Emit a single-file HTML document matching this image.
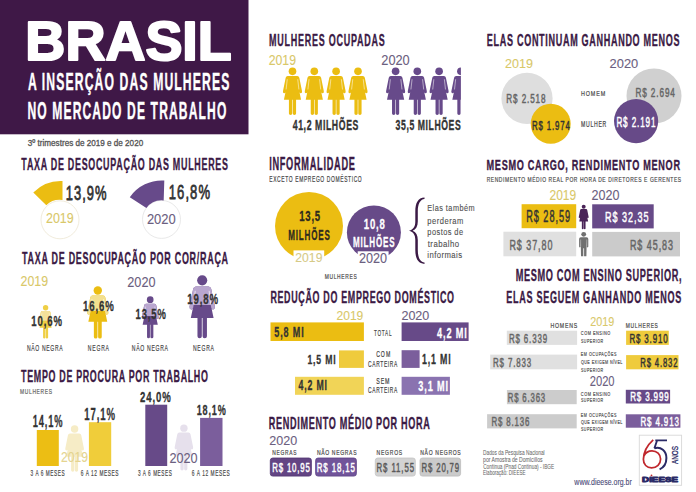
<!DOCTYPE html>
<html><head><meta charset="utf-8"><style>
html,body{margin:0;padding:0;background:#fff;}
svg{display:block;}
text{font-family:"Liberation Sans",sans-serif;}
</style></head><body>
<svg width="696" height="492" viewBox="0 0 696 492">
<defs><clipPath id="clipOc"><rect x="-100" y="-10" width="100" height="120"/></clipPath></defs>
<rect width="696" height="492" fill="#fff"/>
<rect x="0.0" y="0.0" width="248.5" height="134.3" fill="#3f1847" rx="0" />
<text x="25.39" y="59.60" font-size="54.94" font-weight="bold" fill="#ffffff" stroke="#ffffff" stroke-width="2.2" stroke-linejoin="round" textLength="206.21" lengthAdjust="spacingAndGlyphs" >BRASIL</text>
<text x="54.59" y="90.50" font-size="23.84" font-weight="bold" fill="#ffffff" stroke="#ffffff" stroke-width="0.4" stroke-linejoin="round" transform="scale(0.511,1)" textLength="394.09" lengthAdjust="spacing" >A INSERÇÃO DAS MULHERES</text>
<text x="54.37" y="119.40" font-size="23.98" font-weight="bold" fill="#ffffff" stroke="#ffffff" stroke-width="0.4" stroke-linejoin="round" transform="scale(0.5038,1)" textLength="394.83" lengthAdjust="spacing" >NO MERCADO DE TRABALHO</text>
<text x="27.86" y="146.14" font-size="9.11"  fill="#555" stroke="#555" stroke-width="0.33" stroke-linejoin="round" textLength="115.30" lengthAdjust="spacingAndGlyphs" >3º trimestres de 2019 e de 2020</text>
<text x="40.54" y="169.62" font-size="16.93" font-weight="bold" fill="#3b1a45" stroke="#3b1a45" stroke-width="0.35" stroke-linejoin="round" transform="scale(0.5272,1)" textLength="391.88" lengthAdjust="spacing" >TAXA DE DESOCUPAÇÃO DAS MULHERES</text>
<circle cx="60.0" cy="219.8" r="19.0" fill="#fff" stroke="#f1ecdc" stroke-width="1"/>
<path d="M 62.5 181 A 38.5 38.5 0 0 0 33.3 192.5 L 46.3 205.2 A 19.5 19.5 0 0 1 62.5 200 Z" fill="#ebbd12" />
<text x="102.84" y="199.90" font-size="20.20"  fill="#333333" stroke="#333333" stroke-width="0.8" stroke-linejoin="round" transform="scale(0.64,1)" textLength="63.51" lengthAdjust="spacing" >13,9%</text>
<text x="46.02" y="223.35" font-size="13.81"  fill="#d9c869" stroke="#d9c869" stroke-width="0.1" stroke-linejoin="round" textLength="27.72" lengthAdjust="spacingAndGlyphs" >2019</text>
<circle cx="161.5" cy="219.4" r="19.0" fill="#fff" stroke="#e9e9e9" stroke-width="1"/>
<path d="M 164.3 180.5 A 39 39 0 0 0 129.8 197.2 L 146.4 208 A 19 19 0 0 1 163.7 200.4 Z" fill="#674a8a" />
<text x="263.76" y="199.40" font-size="20.35"  fill="#333333" stroke="#333333" stroke-width="0.8" stroke-linejoin="round" transform="scale(0.64,1)" textLength="64.31" lengthAdjust="spacing" >16,8%</text>
<text x="146.90" y="224.15" font-size="15.12"  fill="#6b6080" stroke="#6b6080" stroke-width="0.1" stroke-linejoin="round" textLength="28.86" lengthAdjust="spacingAndGlyphs" >2020</text>
<text x="40.95" y="263.82" font-size="16.64" font-weight="bold" fill="#3b1a45" stroke="#3b1a45" stroke-width="0.35" stroke-linejoin="round" transform="scale(0.5391,1)" textLength="382.09" lengthAdjust="spacing" >TAXA DE DESOCUPAÇÃO POR COR/RAÇA</text>
<text x="20.53" y="286.15" font-size="14.10"  fill="#d9c869" stroke="#d9c869" stroke-width="0.1" stroke-linejoin="round" textLength="27.51" lengthAdjust="spacingAndGlyphs" >2019</text>
<text x="127.31" y="286.95" font-size="14.10"  fill="#6b6080" stroke="#6b6080" stroke-width="0.1" stroke-linejoin="round" textLength="28.23" lengthAdjust="spacingAndGlyphs" >2020</text>
<g transform="translate(45.60,304.90) scale(0.3360)">
<circle cx="0" cy="8.5" r="8" fill="#efcf45"/>
<path d="M-10 18 L10 18 Q13.5 18 14.3 22 L20 50 Q20.5 54 17.6 54.5 Q15 55 14.2 51.5 L13.4 46 L18 68 L7.5 68 L7.5 97 Q7.5 100 4 100 Q0.6 100 0.6 97 L0.6 68 L-0.6 68 L-0.6 97 Q-0.6 100 -4 100 Q-7.5 100 -7.5 97 L-7.5 68 L-18 68 L-13.4 46 L-14.2 51.5 Q-15 55 -17.6 54.5 Q-20.5 54 -20 50 L-14.3 22 Q-13.5 18 -10 18 Z" fill="#efcf45"/>
<path d="M-10 18 L10 18 Q13.5 18 14.3 22 L20 50 Q20.5 54 17.6 54.5 Q15 55 14.2 51.5 L13.4 46 L13.6 47.5 L-13.6 47.5 L-13.4 46 L-14.2 51.5 Q-15 55 -17.6 54.5 Q-20.5 54 -20 50 L-14.3 22 Q-13.5 18 -10 18 Z" fill="#f4e19a"/>
<path d="M-11 25 L-13.4 46.5 M11 25 L13.4 46.5" stroke="#fff" stroke-width="1.3" fill="none" opacity="0.85"/>
</g>
<g transform="translate(97.80,286.00) scale(0.5250)">
<circle cx="0" cy="8.5" r="8" fill="#ebbd12"/>
<path d="M-10 18 L10 18 Q13.5 18 14.3 22 L20 50 Q20.5 54 17.6 54.5 Q15 55 14.2 51.5 L13.4 46 L18 68 L7.5 68 L7.5 97 Q7.5 100 4 100 Q0.6 100 0.6 97 L0.6 68 L-0.6 68 L-0.6 97 Q-0.6 100 -4 100 Q-7.5 100 -7.5 97 L-7.5 68 L-18 68 L-13.4 46 L-14.2 51.5 Q-15 55 -17.6 54.5 Q-20.5 54 -20 50 L-14.3 22 Q-13.5 18 -10 18 Z" fill="#ebbd12"/>
<path d="M-10 18 L10 18 Q13.5 18 14.3 22 L20 50 Q20.5 54 17.6 54.5 Q15 55 14.2 51.5 L13.4 46 L13.6 47.5 L-13.6 47.5 L-13.4 46 L-14.2 51.5 Q-15 55 -17.6 54.5 Q-20.5 54 -20 50 L-14.3 22 Q-13.5 18 -10 18 Z" fill="#f3e08f"/>
<path d="M-11 25 L-13.4 46.5 M11 25 L13.4 46.5" stroke="#fff" stroke-width="1.3" fill="none" opacity="0.85"/>
</g>
<g transform="translate(150.20,296.10) scale(0.4210)">
<circle cx="0" cy="8.5" r="8" fill="#674a8a"/>
<path d="M-10 18 L10 18 Q13.5 18 14.3 22 L20 50 Q20.5 54 17.6 54.5 Q15 55 14.2 51.5 L13.4 46 L18 68 L7.5 68 L7.5 97 Q7.5 100 4 100 Q0.6 100 0.6 97 L0.6 68 L-0.6 68 L-0.6 97 Q-0.6 100 -4 100 Q-7.5 100 -7.5 97 L-7.5 68 L-18 68 L-13.4 46 L-14.2 51.5 Q-15 55 -17.6 54.5 Q-20.5 54 -20 50 L-14.3 22 Q-13.5 18 -10 18 Z" fill="#674a8a"/>
<path d="M-10 18 L10 18 Q13.5 18 14.3 22 L20 50 Q20.5 54 17.6 54.5 Q15 55 14.2 51.5 L13.4 46 L13.6 47.5 L-13.6 47.5 L-13.4 46 L-14.2 51.5 Q-15 55 -17.6 54.5 Q-20.5 54 -20 50 L-14.3 22 Q-13.5 18 -10 18 Z" fill="#b9a6cf"/>
<path d="M-11 25 L-13.4 46.5 M11 25 L13.4 46.5" stroke="#fff" stroke-width="1.3" fill="none" opacity="0.85"/>
</g>
<g transform="translate(202.20,275.00) scale(0.6320)">
<circle cx="0" cy="8.5" r="8" fill="#674a8a"/>
<path d="M-10 18 L10 18 Q13.5 18 14.3 22 L20 50 Q20.5 54 17.6 54.5 Q15 55 14.2 51.5 L13.4 46 L18 68 L7.5 68 L7.5 97 Q7.5 100 4 100 Q0.6 100 0.6 97 L0.6 68 L-0.6 68 L-0.6 97 Q-0.6 100 -4 100 Q-7.5 100 -7.5 97 L-7.5 68 L-18 68 L-13.4 46 L-14.2 51.5 Q-15 55 -17.6 54.5 Q-20.5 54 -20 50 L-14.3 22 Q-13.5 18 -10 18 Z" fill="#674a8a"/>
<path d="M-10 18 L10 18 Q13.5 18 14.3 22 L20 50 Q20.5 54 17.6 54.5 Q15 55 14.2 51.5 L13.4 46 L13.6 47.5 L-13.6 47.5 L-13.4 46 L-14.2 51.5 Q-15 55 -17.6 54.5 Q-20.5 54 -20 50 L-14.3 22 Q-13.5 18 -10 18 Z" fill="#b9a6cf"/>
<path d="M-11 25 L-13.4 46.5 M11 25 L13.4 46.5" stroke="#fff" stroke-width="1.3" fill="none" opacity="0.85"/>
</g>
<text x="49.45" y="326.15" font-size="15.12" font-weight="bold" fill="#333333" stroke="#333333" stroke-width="0.3" stroke-linejoin="round" transform="scale(0.6339,1)" textLength="48.52" lengthAdjust="spacing" >10,6%</text>
<text x="128.73" y="310.95" font-size="14.97" font-weight="bold" fill="#333333" stroke="#333333" stroke-width="0.3" stroke-linejoin="round" transform="scale(0.6443,1)" textLength="48.06" lengthAdjust="spacing" >16,6%</text>
<text x="215.41" y="319.35" font-size="14.97" font-weight="bold" fill="#333333" stroke="#333333" stroke-width="0.3" stroke-linejoin="round" transform="scale(0.6293,1)" textLength="48.06" lengthAdjust="spacing" >13,5%</text>
<text x="279.19" y="304.05" font-size="14.39" font-weight="bold" fill="#333333" stroke="#333333" stroke-width="0.3" stroke-linejoin="round" transform="scale(0.6703,1)" textLength="46.19" lengthAdjust="spacing" >19,8%</text>
<text x="44.57" y="350.90" font-size="8.43"  fill="#4a4a4a" stroke="#4a4a4a" stroke-width="0.2" stroke-linejoin="round" transform="scale(0.6032,1)" textLength="59.40" lengthAdjust="spacing" >NÃO NEGRA</text>
<text x="145.33" y="350.90" font-size="8.43"  fill="#4a4a4a" stroke="#4a4a4a" stroke-width="0.2" stroke-linejoin="round" transform="scale(0.604,1)" textLength="35.15" lengthAdjust="spacing" >NEGRA</text>
<text x="216.80" y="350.90" font-size="8.43"  fill="#4a4a4a" stroke="#4a4a4a" stroke-width="0.2" stroke-linejoin="round" transform="scale(0.6083,1)" textLength="59.40" lengthAdjust="spacing" >NÃO NEGRA</text>
<text x="320.89" y="350.90" font-size="8.43"  fill="#4a4a4a" stroke="#4a4a4a" stroke-width="0.2" stroke-linejoin="round" transform="scale(0.6011,1)" textLength="35.14" lengthAdjust="spacing" >NEGRA</text>
<text x="41.11" y="381.93" font-size="17.37" font-weight="bold" fill="#3b1a45" stroke="#3b1a45" stroke-width="0.35" stroke-linejoin="round" transform="scale(0.5126,1)" textLength="364.46" lengthAdjust="spacing" >TEMPO DE PROCURA POR TRABALHO</text>
<text x="30.85" y="394.38" font-size="7.66"  fill="#666" stroke="#666" stroke-width="0.231" stroke-linejoin="round" transform="scale(0.6454,1)" textLength="49.89" lengthAdjust="spacing" >MULHERES</text>
<g transform="translate(74.60,425.10) scale(0.4660)">
<circle cx="0" cy="8.5" r="8" fill="#f6ecc6"/>
<path d="M-10 18 L10 18 Q13.5 18 14.3 22 L20 50 Q20.5 54 17.6 54.5 Q15 55 14.2 51.5 L13.4 46 L18 68 L7.5 68 L7.5 97 Q7.5 100 4 100 Q0.6 100 0.6 97 L0.6 68 L-0.6 68 L-0.6 97 Q-0.6 100 -4 100 Q-7.5 100 -7.5 97 L-7.5 68 L-18 68 L-13.4 46 L-14.2 51.5 Q-15 55 -17.6 54.5 Q-20.5 54 -20 50 L-14.3 22 Q-13.5 18 -10 18 Z" fill="#f6ecc6"/>
</g>
<g transform="translate(183.90,424.20) scale(0.4620)">
<circle cx="0" cy="8.5" r="8" fill="#e6e0ec"/>
<path d="M-10 18 L10 18 Q13.5 18 14.3 22 L20 50 Q20.5 54 17.6 54.5 Q15 55 14.2 51.5 L13.4 46 L18 68 L7.5 68 L7.5 97 Q7.5 100 4 100 Q0.6 100 0.6 97 L0.6 68 L-0.6 68 L-0.6 97 Q-0.6 100 -4 100 Q-7.5 100 -7.5 97 L-7.5 68 L-18 68 L-13.4 46 L-14.2 51.5 Q-15 55 -17.6 54.5 Q-20.5 54 -20 50 L-14.3 22 Q-13.5 18 -10 18 Z" fill="#e6e0ec"/>
</g>
<rect x="36.8" y="430.0" width="22.0" height="36.0" fill="#ecbe14" rx="0" />
<rect x="88.9" y="422.2" width="22.3" height="43.8" fill="#f0cd3a" rx="0" />
<rect x="145.3" y="404.7" width="21.9" height="61.3" fill="#674a88" rx="0" />
<rect x="200.1" y="417.9" width="22.4" height="48.1" fill="#7b5e9c" rx="0" />
<text x="55.68" y="427.05" font-size="15.84" font-weight="bold" fill="#333333" stroke="#333333" stroke-width="0.3" stroke-linejoin="round" transform="scale(0.5866,1)" textLength="50.85" lengthAdjust="spacing" >14,1%</text>
<text x="139.46" y="420.15" font-size="15.84" font-weight="bold" fill="#333333" stroke="#333333" stroke-width="0.3" stroke-linejoin="round" transform="scale(0.6048,1)" textLength="50.85" lengthAdjust="spacing" >17,1%</text>
<text x="216.71" y="402.15" font-size="14.83" font-weight="bold" fill="#333333" stroke="#333333" stroke-width="0.3" stroke-linejoin="round" transform="scale(0.6461,1)" textLength="47.65" lengthAdjust="spacing" >24,0%</text>
<text x="322.69" y="415.35" font-size="14.83" font-weight="bold" fill="#333333" stroke="#333333" stroke-width="0.3" stroke-linejoin="round" transform="scale(0.6095,1)" textLength="47.59" lengthAdjust="spacing" >18,1%</text>
<text x="61.04" y="462.35" font-size="14.53"  fill="#e5d48f" stroke="#e5d48f" stroke-width="0.1" stroke-linejoin="round" textLength="26.98" lengthAdjust="spacingAndGlyphs" >2019</text>
<text x="169.41" y="462.55" font-size="14.97"  fill="#6b6080" stroke="#6b6080" stroke-width="0.1" stroke-linejoin="round" textLength="28.13" lengthAdjust="spacingAndGlyphs" >2020</text>
<text x="57.32" y="475.70" font-size="8.87"  fill="#4a4a4a" stroke="#4a4a4a" stroke-width="0.2" stroke-linejoin="round" transform="scale(0.5342,1)" textLength="63.64" lengthAdjust="spacing" >3 A 6 MESES</text>
<text x="149.02" y="475.70" font-size="8.87"  fill="#4a4a4a" stroke="#4a4a4a" stroke-width="0.2" stroke-linejoin="round" transform="scale(0.5426,1)" textLength="69.42" lengthAdjust="spacing" >6 A 12 MESES</text>
<text x="259.93" y="476.00" font-size="8.87"  fill="#4a4a4a" stroke="#4a4a4a" stroke-width="0.2" stroke-linejoin="round" transform="scale(0.531,1)" textLength="63.64" lengthAdjust="spacing" >3 A 6 MESES</text>
<text x="351.70" y="476.00" font-size="8.87"  fill="#4a4a4a" stroke="#4a4a4a" stroke-width="0.2" stroke-linejoin="round" transform="scale(0.5455,1)" textLength="69.42" lengthAdjust="spacing" >6 A 12 MESES</text>
<text x="489.58" y="45.83" font-size="16.35" font-weight="bold" fill="#3b1a45" stroke="#3b1a45" stroke-width="0.35" stroke-linejoin="round" transform="scale(0.5494,1)" textLength="210.78" lengthAdjust="spacing" >MULHERES OCUPADAS</text>
<text x="268.73" y="65.15" font-size="14.83"  fill="#d9c869" stroke="#d9c869" stroke-width="0.1" stroke-linejoin="round" textLength="27.30" lengthAdjust="spacingAndGlyphs" >2019</text>
<text x="381.31" y="64.95" font-size="14.39"  fill="#6b6080" stroke="#6b6080" stroke-width="0.1" stroke-linejoin="round" textLength="28.44" lengthAdjust="spacingAndGlyphs" >2020</text>
<g transform="translate(292.50,67.30) scale(0.4770)">
<circle cx="0" cy="8.5" r="8" fill="#ebbd12"/>
<path d="M-10 18 L10 18 Q13.5 18 14.3 22 L20 50 Q20.5 54 17.6 54.5 Q15 55 14.2 51.5 L13.4 46 L18 68 L7.5 68 L7.5 97 Q7.5 100 4 100 Q0.6 100 0.6 97 L0.6 68 L-0.6 68 L-0.6 97 Q-0.6 100 -4 100 Q-7.5 100 -7.5 97 L-7.5 68 L-18 68 L-13.4 46 L-14.2 51.5 Q-15 55 -17.6 54.5 Q-20.5 54 -20 50 L-14.3 22 Q-13.5 18 -10 18 Z" fill="#ebbd12"/>
<path d="M-11 25 L-13.4 46.5 M11 25 L13.4 46.5" stroke="#fff" stroke-width="1.3" fill="none" opacity="0.85"/>
</g>
<g transform="translate(314.30,67.30) scale(0.4770)">
<circle cx="0" cy="8.5" r="8" fill="#ebbd12"/>
<path d="M-10 18 L10 18 Q13.5 18 14.3 22 L20 50 Q20.5 54 17.6 54.5 Q15 55 14.2 51.5 L13.4 46 L18 68 L7.5 68 L7.5 97 Q7.5 100 4 100 Q0.6 100 0.6 97 L0.6 68 L-0.6 68 L-0.6 97 Q-0.6 100 -4 100 Q-7.5 100 -7.5 97 L-7.5 68 L-18 68 L-13.4 46 L-14.2 51.5 Q-15 55 -17.6 54.5 Q-20.5 54 -20 50 L-14.3 22 Q-13.5 18 -10 18 Z" fill="#ebbd12"/>
<path d="M-11 25 L-13.4 46.5 M11 25 L13.4 46.5" stroke="#fff" stroke-width="1.3" fill="none" opacity="0.85"/>
</g>
<g transform="translate(336.10,67.30) scale(0.4770)">
<circle cx="0" cy="8.5" r="8" fill="#ebbd12"/>
<path d="M-10 18 L10 18 Q13.5 18 14.3 22 L20 50 Q20.5 54 17.6 54.5 Q15 55 14.2 51.5 L13.4 46 L18 68 L7.5 68 L7.5 97 Q7.5 100 4 100 Q0.6 100 0.6 97 L0.6 68 L-0.6 68 L-0.6 97 Q-0.6 100 -4 100 Q-7.5 100 -7.5 97 L-7.5 68 L-18 68 L-13.4 46 L-14.2 51.5 Q-15 55 -17.6 54.5 Q-20.5 54 -20 50 L-14.3 22 Q-13.5 18 -10 18 Z" fill="#ebbd12"/>
<path d="M-11 25 L-13.4 46.5 M11 25 L13.4 46.5" stroke="#fff" stroke-width="1.3" fill="none" opacity="0.85"/>
</g>
<g transform="translate(358.00,67.30) scale(0.4770)">
<circle cx="0" cy="8.5" r="8" fill="#ebbd12"/>
<path d="M-10 18 L10 18 Q13.5 18 14.3 22 L20 50 Q20.5 54 17.6 54.5 Q15 55 14.2 51.5 L13.4 46 L18 68 L7.5 68 L7.5 97 Q7.5 100 4 100 Q0.6 100 0.6 97 L0.6 68 L-0.6 68 L-0.6 97 Q-0.6 100 -4 100 Q-7.5 100 -7.5 97 L-7.5 68 L-18 68 L-13.4 46 L-14.2 51.5 Q-15 55 -17.6 54.5 Q-20.5 54 -20 50 L-14.3 22 Q-13.5 18 -10 18 Z" fill="#ebbd12"/>
<path d="M-11 25 L-13.4 46.5 M11 25 L13.4 46.5" stroke="#fff" stroke-width="1.3" fill="none" opacity="0.85"/>
</g>
<g transform="translate(395.60,67.30) scale(0.4770)">
<circle cx="0" cy="8.5" r="8" fill="#674a8a"/>
<path d="M-10 18 L10 18 Q13.5 18 14.3 22 L20 50 Q20.5 54 17.6 54.5 Q15 55 14.2 51.5 L13.4 46 L18 68 L7.5 68 L7.5 97 Q7.5 100 4 100 Q0.6 100 0.6 97 L0.6 68 L-0.6 68 L-0.6 97 Q-0.6 100 -4 100 Q-7.5 100 -7.5 97 L-7.5 68 L-18 68 L-13.4 46 L-14.2 51.5 Q-15 55 -17.6 54.5 Q-20.5 54 -20 50 L-14.3 22 Q-13.5 18 -10 18 Z" fill="#674a8a"/>
<path d="M-11 25 L-13.4 46.5 M11 25 L13.4 46.5" stroke="#fff" stroke-width="1.3" fill="none" opacity="0.85"/>
</g>
<g transform="translate(417.30,67.30) scale(0.4770)">
<circle cx="0" cy="8.5" r="8" fill="#674a8a"/>
<path d="M-10 18 L10 18 Q13.5 18 14.3 22 L20 50 Q20.5 54 17.6 54.5 Q15 55 14.2 51.5 L13.4 46 L18 68 L7.5 68 L7.5 97 Q7.5 100 4 100 Q0.6 100 0.6 97 L0.6 68 L-0.6 68 L-0.6 97 Q-0.6 100 -4 100 Q-7.5 100 -7.5 97 L-7.5 68 L-18 68 L-13.4 46 L-14.2 51.5 Q-15 55 -17.6 54.5 Q-20.5 54 -20 50 L-14.3 22 Q-13.5 18 -10 18 Z" fill="#674a8a"/>
<path d="M-11 25 L-13.4 46.5 M11 25 L13.4 46.5" stroke="#fff" stroke-width="1.3" fill="none" opacity="0.85"/>
</g>
<g transform="translate(439.10,67.30) scale(0.4770)">
<circle cx="0" cy="8.5" r="8" fill="#674a8a"/>
<path d="M-10 18 L10 18 Q13.5 18 14.3 22 L20 50 Q20.5 54 17.6 54.5 Q15 55 14.2 51.5 L13.4 46 L18 68 L7.5 68 L7.5 97 Q7.5 100 4 100 Q0.6 100 0.6 97 L0.6 68 L-0.6 68 L-0.6 97 Q-0.6 100 -4 100 Q-7.5 100 -7.5 97 L-7.5 68 L-18 68 L-13.4 46 L-14.2 51.5 Q-15 55 -17.6 54.5 Q-20.5 54 -20 50 L-14.3 22 Q-13.5 18 -10 18 Z" fill="#674a8a"/>
<path d="M-11 25 L-13.4 46.5 M11 25 L13.4 46.5" stroke="#fff" stroke-width="1.3" fill="none" opacity="0.85"/>
</g>
<g transform="translate(460.90,67.30) scale(0.4770)" clip-path="url(#clipOc)">
<circle cx="0" cy="8.5" r="8" fill="#674a8a"/>
<path d="M-10 18 L10 18 Q13.5 18 14.3 22 L20 50 Q20.5 54 17.6 54.5 Q15 55 14.2 51.5 L13.4 46 L18 68 L7.5 68 L7.5 97 Q7.5 100 4 100 Q0.6 100 0.6 97 L0.6 68 L-0.6 68 L-0.6 97 Q-0.6 100 -4 100 Q-7.5 100 -7.5 97 L-7.5 68 L-18 68 L-13.4 46 L-14.2 51.5 Q-15 55 -17.6 54.5 Q-20.5 54 -20 50 L-14.3 22 Q-13.5 18 -10 18 Z" fill="#674a8a"/>
<path d="M-11 25 L-13.4 46.5 M11 25 L13.4 46.5" stroke="#fff" stroke-width="1.3" fill="none" opacity="0.85"/>
</g>
<text x="500.24" y="130.12" font-size="14.90" font-weight="bold" fill="#333333" stroke="#333333" stroke-width="0.35" stroke-linejoin="round" transform="scale(0.5852,1)" textLength="112.14" lengthAdjust="spacing" >41,2 MILHÕES</text>
<text x="653.84" y="129.82" font-size="14.32" font-weight="bold" fill="#333333" stroke="#333333" stroke-width="0.35" stroke-linejoin="round" transform="scale(0.605,1)" textLength="107.75" lengthAdjust="spacing" >35,5 MILHÕES</text>
<text x="511.90" y="170.42" font-size="17.51" font-weight="bold" fill="#3b1a45" stroke="#3b1a45" stroke-width="0.35" stroke-linejoin="round" transform="scale(0.5258,1)" textLength="163.04" lengthAdjust="spacing" >INFORMALIDADE</text>
<text x="441.17" y="182.30" font-size="8.14"  fill="#4a4a4a" stroke="#4a4a4a" stroke-width="0.2" stroke-linejoin="round" transform="scale(0.6104,1)" textLength="151.45" lengthAdjust="spacing" >EXCETO EMPREGO DOMÉSTICO</text>
<circle cx="309.0" cy="226.0" r="34.0" fill="#ebbd12" />
<text x="485.63" y="221.45" font-size="15.55" font-weight="bold" fill="#2e2a1e" stroke="#2e2a1e" stroke-width="0.3" stroke-linejoin="round" transform="scale(0.616,1)" textLength="34.20" lengthAdjust="spacing" >13,5</text>
<text x="546.48" y="240.25" font-size="15.26" font-weight="bold" fill="#2e2a1e" stroke="#2e2a1e" stroke-width="0.3" stroke-linejoin="round" transform="scale(0.5274,1)" textLength="78.79" lengthAdjust="spacing" >MILHÕES</text>
<rect x="293.5" y="250.4" width="30.7" height="14.1" fill="#fff" rx="0" />
<text x="295.34" y="262.35" font-size="13.52"  fill="#d6ca86" stroke="#d6ca86" stroke-width="0.1" stroke-linejoin="round" textLength="27.09" lengthAdjust="spacingAndGlyphs" >2019</text>
<text x="450.66" y="278.90" font-size="6.82"  fill="#4a4a4a" stroke="#4a4a4a" stroke-width="0.206" stroke-linejoin="round" transform="scale(0.7205,1)" textLength="44.45" lengthAdjust="spacing" >MULHERES</text>
<circle cx="373.9" cy="232.4" r="27.0" fill="#674a88" />
<text x="573.17" y="228.75" font-size="15.12" font-weight="bold" fill="#fff" stroke="#fff" stroke-width="0.3" stroke-linejoin="round" transform="scale(0.6348,1)" textLength="33.24" lengthAdjust="spacing" >10,8</text>
<text x="656.64" y="247.05" font-size="14.97" font-weight="bold" fill="#fff" stroke="#fff" stroke-width="0.3" stroke-linejoin="round" transform="scale(0.5376,1)" textLength="77.29" lengthAdjust="spacing" >MILHÕES</text>
<rect x="357.7" y="251.3" width="30.9" height="13.3" fill="#fff" rx="0" />
<text x="359.01" y="263.35" font-size="14.68"  fill="#6b6080" stroke="#6b6080" stroke-width="0.1" stroke-linejoin="round" textLength="28.13" lengthAdjust="spacingAndGlyphs" >2020</text>
<path d="M 424.5 197.6 C 418 197.9 415.3 203 415.3 211.5 L 415.3 221.5 C 415.3 226.5 413.5 229.6 409 230.7 C 413.5 231.8 415.3 234.9 415.3 239.9 L 415.3 249.9 C 415.3 258.4 418 263.5 424.5 263.9 L 424.5 262.6 C 420.2 262.1 417.8 257.6 417.8 249.9 L 417.8 239.9 C 417.8 235 416 232 412.6 230.7 C 416 229.4 417.8 226.4 417.8 221.5 L 417.8 211.5 C 417.8 203.8 420.2 199.3 424.5 198.9 Z" fill="#3b1a45" />
<text x="541.04" y="211.14" font-size="9.27"  fill="#505050" stroke="#505050" stroke-width="0.12" stroke-linejoin="round" transform="scale(0.7897,1)" textLength="59.98" lengthAdjust="spacing" >Elas também</text>
<text x="523.87" y="223.94" font-size="9.27"  fill="#505050" stroke="#505050" stroke-width="0.12" stroke-linejoin="round" transform="scale(0.8158,1)" textLength="43.96" lengthAdjust="spacing" >perderam</text>
<text x="533.69" y="235.44" font-size="9.27"  fill="#505050" stroke="#505050" stroke-width="0.12" stroke-linejoin="round" transform="scale(0.8008,1)" textLength="44.57" lengthAdjust="spacing" >postos de</text>
<text x="507.58" y="246.94" font-size="9.27"  fill="#505050" stroke="#505050" stroke-width="0.12" stroke-linejoin="round" transform="scale(0.8427,1)" textLength="37.17" lengthAdjust="spacing" >trabalho</text>
<text x="513.82" y="258.34" font-size="9.27"  fill="#505050" stroke="#505050" stroke-width="0.12" stroke-linejoin="round" transform="scale(0.8317,1)" textLength="41.69" lengthAdjust="spacing" >informais</text>
<text x="491.78" y="303.43" font-size="16.21" font-weight="bold" fill="#3b1a45" stroke="#3b1a45" stroke-width="0.35" stroke-linejoin="round" transform="scale(0.5498,1)" textLength="333.98" lengthAdjust="spacing" >REDUÇÃO DO EMPREGO DOMÉSTICO</text>
<text x="336.44" y="319.55" font-size="12.94"  fill="#d9c869" stroke="#d9c869" stroke-width="0.1" stroke-linejoin="round" textLength="26.88" lengthAdjust="spacingAndGlyphs" >2019</text>
<text x="401.42" y="319.55" font-size="12.94"  fill="#6b6080" stroke="#6b6080" stroke-width="0.1" stroke-linejoin="round" textLength="27.92" lengthAdjust="spacingAndGlyphs" >2020</text>
<rect x="270.5" y="322.4" width="93.4" height="18.6" fill="#ebbd12" rx="0" />
<rect x="339.0" y="350.4" width="24.9" height="17.5" fill="#efcb3c" rx="0" />
<rect x="295.0" y="376.8" width="68.9" height="18.0" fill="#f1d457" rx="0" />
<rect x="401.6" y="322.4" width="67.0" height="18.6" fill="#674a88" rx="0" />
<rect x="401.6" y="350.2" width="18.0" height="17.7" fill="#7b5e9c" rx="0" />
<rect x="401.6" y="376.8" width="48.3" height="18.0" fill="#8a73b0" rx="0" />
<text x="451.79" y="337.35" font-size="14.83" font-weight="bold" fill="#333333" stroke="#333333" stroke-width="0.3" stroke-linejoin="round" transform="scale(0.6073,1)" textLength="48.21" lengthAdjust="spacing" >5,8 MI</text>
<text x="479.80" y="364.25" font-size="13.52" font-weight="bold" fill="#333333" stroke="#333333" stroke-width="0.3" stroke-linejoin="round" transform="scale(0.6409,1)" textLength="43.88" lengthAdjust="spacing" >1,5 MI</text>
<text x="470.40" y="389.95" font-size="13.81" font-weight="bold" fill="#333333" stroke="#333333" stroke-width="0.3" stroke-linejoin="round" transform="scale(0.6346,1)" textLength="44.94" lengthAdjust="spacing" >4,2 MI</text>
<text x="729.69" y="338.05" font-size="15.26" font-weight="bold" fill="#fff" stroke="#fff" stroke-width="0.3" stroke-linejoin="round" transform="scale(0.5989,1)" textLength="49.67" lengthAdjust="spacing" >4,2 MI</text>
<text x="746.68" y="364.25" font-size="15.55" font-weight="bold" fill="#333333" stroke="#333333" stroke-width="0.3" stroke-linejoin="round" transform="scale(0.5653,1)" textLength="50.49" lengthAdjust="spacing" >1,1 MI</text>
<text x="685.58" y="391.15" font-size="14.97" font-weight="bold" fill="#fff" stroke="#fff" stroke-width="0.3" stroke-linejoin="round" transform="scale(0.6102,1)" textLength="48.71" lengthAdjust="spacing" >3,1 MI</text>
<text x="702.47" y="335.80" font-size="8.72"  fill="#444" stroke="#444" stroke-width="0.2" stroke-linejoin="round" transform="scale(0.5324,1)" textLength="32.98" lengthAdjust="spacing" >TOTAL</text>
<text x="591.41" y="357.30" font-size="8.14"  fill="#444" stroke="#444" stroke-width="0.2" stroke-linejoin="round" transform="scale(0.636,1)" textLength="22.15" lengthAdjust="spacing" >COM</text>
<text x="608.05" y="366.60" font-size="8.14"  fill="#444" stroke="#444" stroke-width="0.2" stroke-linejoin="round" transform="scale(0.6053,1)" textLength="48.34" lengthAdjust="spacing" >CARTEIRA</text>
<text x="578.44" y="384.20" font-size="8.14"  fill="#444" stroke="#444" stroke-width="0.2" stroke-linejoin="round" transform="scale(0.6503,1)" textLength="20.57" lengthAdjust="spacing" >SEM</text>
<text x="608.05" y="393.50" font-size="8.14"  fill="#444" stroke="#444" stroke-width="0.2" stroke-linejoin="round" transform="scale(0.6053,1)" textLength="48.34" lengthAdjust="spacing" >CARTEIRA</text>
<text x="465.88" y="428.62" font-size="15.77" font-weight="bold" fill="#3b1a45" stroke="#3b1a45" stroke-width="0.35" stroke-linejoin="round" transform="scale(0.5769,1)" textLength="279.25" lengthAdjust="spacing" >RENDIMENTO MÉDIO POR HORA</text>
<text x="269.22" y="445.25" font-size="13.66"  fill="#6b6080" stroke="#6b6080" stroke-width="0.1" stroke-linejoin="round" textLength="27.92" lengthAdjust="spacingAndGlyphs" >2020</text>
<text x="379.36" y="455.20" font-size="6.82"  fill="#4a4a4a" stroke="#4a4a4a" stroke-width="0.206" stroke-linejoin="round" transform="scale(0.7178,1)" textLength="33.74" lengthAdjust="spacing" >NEGRAS</text>
<text x="426.61" y="455.20" font-size="6.82"  fill="#4a4a4a" stroke="#4a4a4a" stroke-width="0.206" stroke-linejoin="round" transform="scale(0.7428,1)" textLength="53.37" lengthAdjust="spacing" >NÃO NEGRAS</text>
<text x="508.70" y="455.20" font-size="6.82"  fill="#4a4a4a" stroke="#4a4a4a" stroke-width="0.206" stroke-linejoin="round" transform="scale(0.7403,1)" textLength="34.63" lengthAdjust="spacing" >NEGROS</text>
<text x="563.84" y="455.20" font-size="6.82"  fill="#4a4a4a" stroke="#4a4a4a" stroke-width="0.206" stroke-linejoin="round" transform="scale(0.7454,1)" textLength="54.26" lengthAdjust="spacing" >NÃO NEGROS</text>
<rect x="270.3" y="458.0" width="41.1" height="18.1" fill="#634584" rx="2.5" stroke="#503572" stroke-width="0.8"/>
<rect x="315.6" y="458.0" width="40.8" height="18.1" fill="#71549a" rx="2.5" stroke="#5d4287" stroke-width="0.8"/>
<rect x="375.3" y="458.0" width="40.0" height="18.1" fill="#d3d3d3" rx="2.5" stroke="#c4c4c4" stroke-width="0.8"/>
<rect x="420.0" y="458.0" width="40.6" height="18.1" fill="#cbcbcb" rx="2.5" stroke="#bdbdbd" stroke-width="0.8"/>
<text x="454.44" y="471.95" font-size="13.08"  fill="#fff" stroke="#fff" stroke-width="0.5" stroke-linejoin="round" transform="scale(0.599,1)" textLength="62.89" lengthAdjust="spacing" >R$ 10,95</text>
<text x="523.20" y="471.95" font-size="13.08"  fill="#fff" stroke="#fff" stroke-width="0.5" stroke-linejoin="round" transform="scale(0.6055,1)" textLength="62.89" lengthAdjust="spacing" >R$ 18,15</text>
<text x="630.35" y="471.95" font-size="13.08"  fill="#5a5a5a" stroke="#5a5a5a" stroke-width="0.5" stroke-linejoin="round" transform="scale(0.5973,1)" textLength="62.90" lengthAdjust="spacing" >R$ 11,55</text>
<text x="706.81" y="471.95" font-size="13.08"  fill="#5a5a5a" stroke="#5a5a5a" stroke-width="0.5" stroke-linejoin="round" transform="scale(0.5965,1)" textLength="62.88" lengthAdjust="spacing" >R$ 20,79</text>
<text x="856.26" y="45.83" font-size="15.92" font-weight="bold" fill="#3b1a45" stroke="#3b1a45" stroke-width="0.35" stroke-linejoin="round" transform="scale(0.5686,1)" textLength="338.74" lengthAdjust="spacing" >ELAS CONTINUAM GANHANDO MENOS</text>
<text x="505.02" y="68.35" font-size="13.37"  fill="#d9c869" stroke="#d9c869" stroke-width="0.1" stroke-linejoin="round" textLength="27.93" lengthAdjust="spacingAndGlyphs" >2019</text>
<text x="609.60" y="68.35" font-size="13.37"  fill="#6b6080" stroke="#6b6080" stroke-width="0.1" stroke-linejoin="round" textLength="28.65" lengthAdjust="spacingAndGlyphs" >2020</text>
<circle cx="527.0" cy="98.4" r="25.6" fill="#dedede" />
<circle cx="550.7" cy="123.8" r="20.0" fill="#ebbd12" />
<text x="768.88" y="103.25" font-size="12.35"  fill="#666" stroke="#666" stroke-width="0.5" stroke-linejoin="round" transform="scale(0.6586,1)" textLength="59.40" lengthAdjust="spacing" >R$ 2.518</text>
<text x="886.23" y="129.65" font-size="13.08"  fill="#333333" stroke="#333333" stroke-width="0.5" stroke-linejoin="round" transform="scale(0.6003,1)" textLength="62.93" lengthAdjust="spacing" >R$ 1.974</text>
<text x="852.12" y="95.58" font-size="7.94"  fill="#4a4a4a" stroke="#4a4a4a" stroke-width="0.239" stroke-linejoin="round" transform="scale(0.6818,1)" textLength="35.57" lengthAdjust="spacing" >HOMEM</text>
<text x="932.59" y="126.68" font-size="8.22"  fill="#4a4a4a" stroke="#4a4a4a" stroke-width="0.248" stroke-linejoin="round" transform="scale(0.623,1)" textLength="40.62" lengthAdjust="spacing" >MULHER</text>
<circle cx="654.0" cy="96.0" r="27.5" fill="#d0d0d0" />
<circle cx="636.1" cy="121.1" r="22.1" fill="#674a88" />
<text x="1014.65" y="97.45" font-size="13.08"  fill="#666" stroke="#666" stroke-width="0.5" stroke-linejoin="round" transform="scale(0.6263,1)" textLength="62.93" lengthAdjust="spacing" >R$ 2.694</text>
<text x="1099.50" y="127.15" font-size="14.53"  fill="#fff" stroke="#fff" stroke-width="0.5" stroke-linejoin="round" transform="scale(0.5606,1)" textLength="69.86" lengthAdjust="spacing" >R$ 2.191</text>
<text x="823.99" y="169.52" font-size="15.48" font-weight="bold" fill="#3b1a45" stroke="#3b1a45" stroke-width="0.35" stroke-linejoin="round" transform="scale(0.5905,1)" textLength="327.60" lengthAdjust="spacing" >MESMO CARGO, RENDIMENTO MENOR</text>
<text x="629.20" y="182.11" font-size="6.42"  fill="#4a4a4a" stroke="#4a4a4a" stroke-width="0.18" stroke-linejoin="round" transform="scale(0.7735,1)" textLength="251.40" lengthAdjust="spacing" >RENDIMENTO MÉDIO REAL POR HORA DE DIRETORES E GERENTES</text>
<text x="549.44" y="200.15" font-size="14.39"  fill="#d9c869" stroke="#d9c869" stroke-width="0.1" stroke-linejoin="round" textLength="26.78" lengthAdjust="spacingAndGlyphs" >2019</text>
<text x="591.62" y="200.25" font-size="14.39"  fill="#6b6080" stroke="#6b6080" stroke-width="0.1" stroke-linejoin="round" textLength="27.92" lengthAdjust="spacingAndGlyphs" >2020</text>
<rect x="521.6" y="204.2" width="54.6" height="24.0" fill="#ebbd12" rx="0" />
<rect x="503.4" y="231.7" width="72.8" height="24.6" fill="#e0e0e0" rx="0" />
<rect x="592.2" y="204.3" width="61.5" height="24.1" fill="#674a88" rx="0" />
<rect x="592.2" y="231.9" width="87.8" height="24.5" fill="#cbcbcb" rx="0" />
<text x="938.30" y="222.15" font-size="16.28"  fill="#333333" stroke="#333333" stroke-width="0.5" stroke-linejoin="round" transform="scale(0.5608,1)" textLength="78.25" lengthAdjust="spacing" >R$ 28,59</text>
<text x="826.44" y="250.15" font-size="14.53"  fill="#666" stroke="#666" stroke-width="0.5" stroke-linejoin="round" transform="scale(0.6164,1)" textLength="69.90" lengthAdjust="spacing" >R$ 37,80</text>
<text x="1042.03" y="222.25" font-size="15.55"  fill="#fff" stroke="#fff" stroke-width="0.5" stroke-linejoin="round" transform="scale(0.5807,1)" textLength="74.77" lengthAdjust="spacing" >R$ 32,35</text>
<text x="1030.79" y="250.35" font-size="14.68"  fill="#666" stroke="#666" stroke-width="0.5" stroke-linejoin="round" transform="scale(0.6111,1)" textLength="70.58" lengthAdjust="spacing" >R$ 45,83</text>
<g transform="translate(583.70,204.60) scale(0.2470)">
<circle cx="0" cy="8.5" r="8" fill="#4a2458"/>
<path d="M-10 18 L10 18 Q13.5 18 14.3 22 L20 50 Q20.5 54 17.6 54.5 Q15 55 14.2 51.5 L13.4 46 L18 68 L7.5 68 L7.5 97 Q7.5 100 4 100 Q0.6 100 0.6 97 L0.6 68 L-0.6 68 L-0.6 97 Q-0.6 100 -4 100 Q-7.5 100 -7.5 97 L-7.5 68 L-18 68 L-13.4 46 L-14.2 51.5 Q-15 55 -17.6 54.5 Q-20.5 54 -20 50 L-14.3 22 Q-13.5 18 -10 18 Z" fill="#4a2458"/>
</g>
<circle cx="583.7" cy="234.3" r="2.4" fill="#707070" />
<path d="M 580.9 237.3 L 586.5 237.3 Q 588.3 237.3 588.3 239.1 L 588.3 246.6 Q 588.3 247.4 587.55 247.4 Q 586.8 247.4 586.8 246.6 L 586.7 241 L 586.4 256.2 L 584.1 256.2 L 584.1 248.2 L 583.3 248.2 L 583.3 256.2 L 581 256.2 L 580.7 241 L 580.6 246.6 Q 580.6 247.4 579.85 247.4 Q 579.1 247.4 579.1 246.6 L 579.1 239.1 Q 579.1 237.3 580.9 237.3 Z" fill="#707070" />
<path d="M 580.65 239.5 L 580.65 246.5 M 586.75 239.5 L 586.75 246.5" stroke="#fff" stroke-width="0.35"/>
<text x="910.58" y="280.82" font-size="16.21" font-weight="bold" fill="#3b1a45" stroke="#3b1a45" stroke-width="0.35" stroke-linejoin="round" transform="scale(0.5663,1)" textLength="292.92" lengthAdjust="spacing" >MESMO COM ENSINO SUPERIOR,</text>
<text x="931.00" y="302.52" font-size="16.64" font-weight="bold" fill="#3b1a45" stroke="#3b1a45" stroke-width="0.35" stroke-linejoin="round" transform="scale(0.5439,1)" textLength="321.40" lengthAdjust="spacing" >ELAS SEGUEM GANHANDO MENOS</text>
<text x="792.61" y="328.19" font-size="7.52"  fill="#4a4a4a" stroke="#4a4a4a" stroke-width="0.227" stroke-linejoin="round" transform="scale(0.6944,1)" textLength="38.65" lengthAdjust="spacing" >HOMENS</text>
<text x="590.20" y="325.85" font-size="13.37"  fill="#d9c869" stroke="#d9c869" stroke-width="0.1" stroke-linejoin="round" textLength="24.16" lengthAdjust="spacingAndGlyphs" >2019</text>
<text x="954.85" y="328.19" font-size="7.52"  fill="#4a4a4a" stroke="#4a4a4a" stroke-width="0.227" stroke-linejoin="round" transform="scale(0.6554,1)" textLength="48.98" lengthAdjust="spacing" >MULHERES</text>
<rect x="506.8" y="330.7" width="70.3" height="14.2" fill="#e0e0e0" rx="0" />
<rect x="490.2" y="354.6" width="86.9" height="14.7" fill="#e0e0e0" rx="0" />
<rect x="626.1" y="330.7" width="42.7" height="14.2" fill="#efcb3c" rx="0" />
<rect x="626.1" y="355.1" width="52.4" height="14.2" fill="#efcb3c" rx="0" />
<text x="855.72" y="342.65" font-size="13.37"  fill="#666" stroke="#666" stroke-width="0.5" stroke-linejoin="round" transform="scale(0.5947,1)" textLength="64.28" lengthAdjust="spacing" >R$ 6.339</text>
<text x="827.45" y="367.05" font-size="13.37"  fill="#666" stroke="#666" stroke-width="0.5" stroke-linejoin="round" transform="scale(0.5958,1)" textLength="64.29" lengthAdjust="spacing" >R$ 7.833</text>
<text x="1057.63" y="342.65" font-size="13.37"  fill="#333333" stroke="#333333" stroke-width="0.5" stroke-linejoin="round" transform="scale(0.5951,1)" textLength="64.30" lengthAdjust="spacing" >R$ 3.910</text>
<text x="1108.58" y="367.05" font-size="13.37"  fill="#333333" stroke="#333333" stroke-width="0.5" stroke-linejoin="round" transform="scale(0.5776,1)" textLength="64.27" lengthAdjust="spacing" >R$ 4.832</text>
<text x="852.99" y="335.51" font-size="5.71"  fill="#4a4a4a" stroke="#4a4a4a" stroke-width="0.172" stroke-linejoin="round" transform="scale(0.681,1)" textLength="43.19" lengthAdjust="spacing" >COM ENSINO</text>
<text x="917.29" y="342.81" font-size="5.71"  fill="#4a4a4a" stroke="#4a4a4a" stroke-width="0.172" stroke-linejoin="round" transform="scale(0.6333,1)" textLength="34.99" lengthAdjust="spacing" >SUPERIOR</text>
<text x="892.82" y="356.21" font-size="5.71"  fill="#4a4a4a" stroke="#4a4a4a" stroke-width="0.172" stroke-linejoin="round" transform="scale(0.6505,1)" textLength="54.73" lengthAdjust="spacing" >EM OCUPAÇÕES</text>
<text x="891.65" y="364.31" font-size="5.71"  fill="#4a4a4a" stroke="#4a4a4a" stroke-width="0.172" stroke-linejoin="round" transform="scale(0.6515,1)" textLength="63.74" lengthAdjust="spacing" >QUE EXIGEM NÍVEL</text>
<text x="917.29" y="371.61" font-size="5.71"  fill="#4a4a4a" stroke="#4a4a4a" stroke-width="0.172" stroke-linejoin="round" transform="scale(0.6333,1)" textLength="34.99" lengthAdjust="spacing" >SUPERIOR</text>
<text x="589.69" y="386.35" font-size="14.39"  fill="#6b6080" stroke="#6b6080" stroke-width="0.1" stroke-linejoin="round" textLength="24.90" lengthAdjust="spacingAndGlyphs" >2020</text>
<rect x="506.9" y="390.0" width="69.8" height="14.2" fill="#cccccc" rx="0" />
<rect x="487.1" y="414.2" width="89.6" height="14.2" fill="#cccccc" rx="0" />
<rect x="625.8" y="389.8" width="44.3" height="13.7" fill="#674a88" rx="0" />
<rect x="625.8" y="414.3" width="54.6" height="13.4" fill="#7b5e9c" rx="0" />
<text x="851.86" y="401.95" font-size="13.08"  fill="#666" stroke="#666" stroke-width="0.5" stroke-linejoin="round" transform="scale(0.596,1)" textLength="62.89" lengthAdjust="spacing" >R$ 6.363</text>
<text x="815.77" y="426.15" font-size="13.08"  fill="#666" stroke="#666" stroke-width="0.5" stroke-linejoin="round" transform="scale(0.6025,1)" textLength="62.89" lengthAdjust="spacing" >R$ 8.136</text>
<text x="996.67" y="401.05" font-size="12.65"  fill="#fff" stroke="#fff" stroke-width="0.5" stroke-linejoin="round" transform="scale(0.6323,1)" textLength="60.79" lengthAdjust="spacing" >R$ 3.999</text>
<text x="1045.88" y="426.15" font-size="13.08"  fill="#fff" stroke="#fff" stroke-width="0.5" stroke-linejoin="round" transform="scale(0.6123,1)" textLength="62.89" lengthAdjust="spacing" >R$ 4.913</text>
<text x="852.99" y="395.91" font-size="5.71"  fill="#4a4a4a" stroke="#4a4a4a" stroke-width="0.172" stroke-linejoin="round" transform="scale(0.681,1)" textLength="43.19" lengthAdjust="spacing" >COM ENSINO</text>
<text x="917.29" y="402.31" font-size="5.71"  fill="#4a4a4a" stroke="#4a4a4a" stroke-width="0.172" stroke-linejoin="round" transform="scale(0.6333,1)" textLength="34.99" lengthAdjust="spacing" >SUPERIOR</text>
<text x="892.82" y="416.51" font-size="5.71"  fill="#4a4a4a" stroke="#4a4a4a" stroke-width="0.172" stroke-linejoin="round" transform="scale(0.6505,1)" textLength="54.73" lengthAdjust="spacing" >EM OCUPAÇÕES</text>
<text x="891.65" y="423.61" font-size="5.71"  fill="#4a4a4a" stroke="#4a4a4a" stroke-width="0.172" stroke-linejoin="round" transform="scale(0.6515,1)" textLength="63.74" lengthAdjust="spacing" >QUE EXIGEM NÍVEL</text>
<text x="917.29" y="431.21" font-size="5.71"  fill="#4a4a4a" stroke="#4a4a4a" stroke-width="0.172" stroke-linejoin="round" transform="scale(0.6333,1)" textLength="34.99" lengthAdjust="spacing" >SUPERIOR</text>
<text x="483.03" y="454.78" font-size="6.61"  fill="#666" stroke="#666" stroke-width="0.05" stroke-linejoin="round" textLength="61.67" lengthAdjust="spacingAndGlyphs" >Dados da Pesquisa Nacional</text>
<text x="483.11" y="461.68" font-size="6.61"  fill="#666" stroke="#666" stroke-width="0.05" stroke-linejoin="round" textLength="59.45" lengthAdjust="spacingAndGlyphs" >por  Amostra de Domicílios</text>
<text x="483.18" y="469.08" font-size="6.61"  fill="#666" stroke="#666" stroke-width="0.05" stroke-linejoin="round" textLength="71.00" lengthAdjust="spacingAndGlyphs" >Contínua (Pnad Contínua) - IBGE</text>
<text x="483.05" y="475.48" font-size="6.61"  fill="#666" stroke="#666" stroke-width="0.05" stroke-linejoin="round" textLength="42.52" lengthAdjust="spacingAndGlyphs" >Elaboração: DIEESE</text>
<text x="574.37" y="485.14" font-size="9.27"  fill="#4b4b78" stroke="#4b4b78" stroke-width="0.12" stroke-linejoin="round" textLength="57.38" lengthAdjust="spacingAndGlyphs" >www.dieese.org.br</text>
<rect x="639.3" y="435.2" width="42.3" height="50.1" fill="#fff" rx="0" stroke="#d8d8d8" stroke-width="0.9"/>
<path d="M 653.2 439.8 C 648 444.5 643.5 451.5 643.4 459.3 C 643.3 464.5 646.8 467.8 651.6 467.8 C 656.8 467.8 660.6 464.2 660.6 459 C 660.6 454.3 656.8 450.8 652 450.8 C 648.5 450.8 645.5 452.8 644 455.8" stroke="#c0272d" stroke-width="1.75" fill="none"/>
<path d="M 655.3 440.4 L 667 440.4 M 657 440.6 L 654.4 448.4" stroke="#2a2a66" stroke-width="1.8" fill="none"/>
<path d="M 654.4 448.3 C 661 446.3 666.4 451 666.4 458 C 666.4 464 663.5 467.6 659.6 469.3" stroke="#2a2a66" stroke-width="2" fill="none"/>
<text x="677.94" y="463.95" font-size="9.45"  fill="#2a2a66" stroke="#2a2a66" stroke-width="0.3" stroke-linejoin="round" textLength="17.90" lengthAdjust="spacingAndGlyphs" transform="rotate(-90 677.8 464.1)">ANOS</text>
<text x="642.10" y="482.15" font-size="6.83" font-weight="bold" fill="#2a2a66" stroke="#2a2a66" stroke-width="0.9" stroke-linejoin="round" textLength="35.84" lengthAdjust="spacingAndGlyphs" >DIEESE</text>
<circle cx="651.5" cy="475.4" r="0.9" fill="#c0272d" />
</svg></body></html>
